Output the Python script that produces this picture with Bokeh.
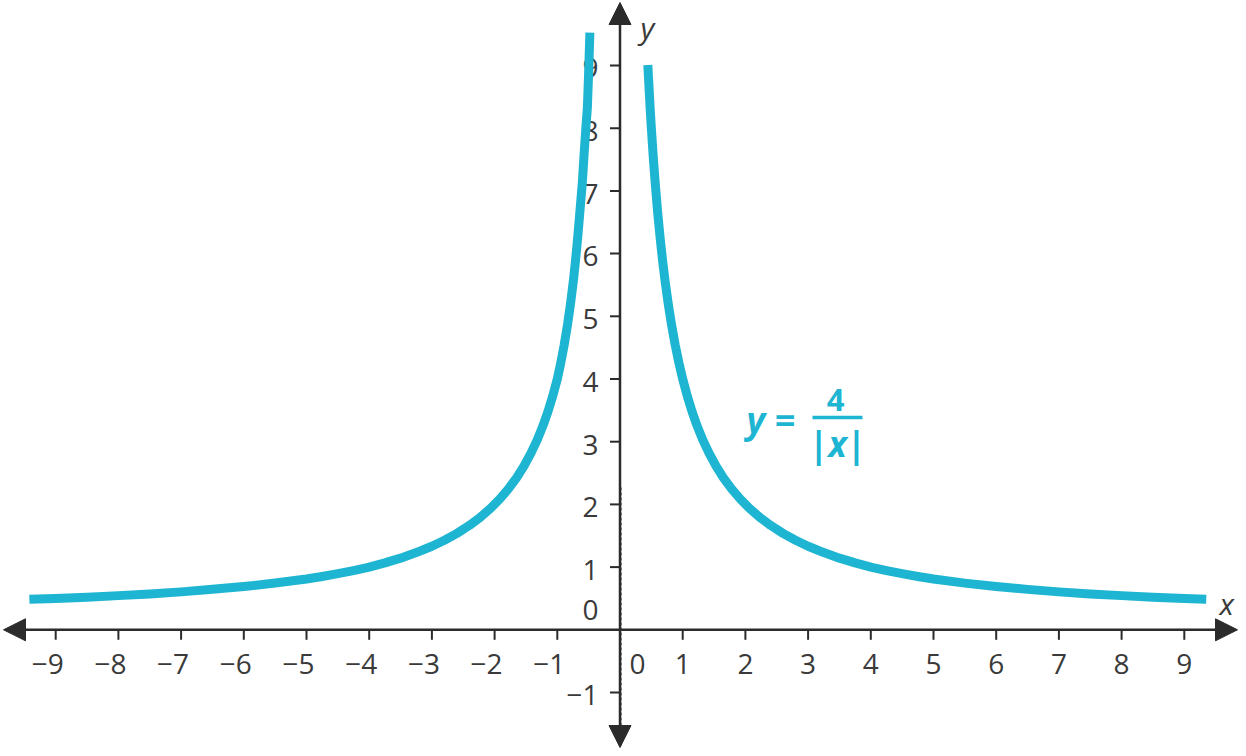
from bokeh.plotting import figure
from bokeh.models import Arrow, NormalHead
from bokeh.core.properties import value
from bokeh.embed import file_html
from bokeh.resources import INLINE

# ---- data ----
x_left = [-9.42, -9.0, -8.5, -8.0, -7.5, -7.0, -6.5, -6.0, -5.5, -5.0, -4.75, -4.5,
          -4.25, -4.0, -3.75, -3.5, -3.25, -3.0, -2.8, -2.6, -2.4, -2.23, -2.07,
          -1.92, -1.78, -1.65, -1.53, -1.42, -1.32, -1.23, -1.15, -1.07, -1.0,
          -0.945, -0.89, -0.835, -0.79, -0.745, -0.71, -0.675, -0.64, -0.60, -0.575,
          -0.545, -0.52, -0.50, -0.48]
y_left = [0.487, 0.50, 0.52, 0.545, 0.572, 0.605, 0.645, 0.69, 0.745, 0.81, 0.85,
          0.895, 0.945, 1.0, 1.067, 1.143, 1.231, 1.333, 1.429, 1.538, 1.667, 1.794,
          1.932, 2.083, 2.247, 2.424, 2.614, 2.817, 3.030, 3.252, 3.478, 3.738, 4.0,
          4.255, 4.545, 4.878, 5.195, 5.556, 5.882, 6.25, 6.667, 7.143, 7.547,
          8.0, 8.333, 8.889, 9.524]
x_right = [0.444, 0.45, 0.48, 0.5, 0.53, 0.56, 0.6, 0.64, 0.68, 0.72, 0.77, 0.82,
           0.88, 0.94, 1.0, 1.07, 1.15, 1.23, 1.32, 1.42, 1.53, 1.65, 1.78, 1.92,
           2.07, 2.23, 2.4, 2.6, 2.8, 3.0, 3.25, 3.5, 3.75, 4.0, 4.25, 4.5, 4.75,
           5.0, 5.5, 6.0, 6.5, 7.0, 7.5, 8.0, 8.5, 9.0, 9.35]
y_right = [9.009, 8.889, 8.333, 8.0, 7.547, 7.143, 6.667, 6.25, 5.882, 5.556, 5.195,
           4.878, 4.545, 4.255, 4.0, 3.738, 3.478, 3.252, 3.030, 2.817, 2.614, 2.424,
           2.247, 2.083, 1.932, 1.794, 1.667, 1.538, 1.429, 1.333, 1.231, 1.143,
           1.067, 1.0, 0.945, 0.895, 0.85, 0.81, 0.745, 0.69, 0.645, 0.605, 0.572,
           0.545, 0.52, 0.50, 0.488]

x_ticks = [-9, -8, -7, -6, -5, -4, -3, -2, -1, 1, 2, 3, 4, 5, 6, 7, 8, 9]
x_tick_labels = ["−9", "−8", "−7", "−6", "−5", "−4", "−3", "−2", "−1",
                 "1", "2", "3", "4", "5", "6", "7", "8", "9"]
y_ticks = [-1, 1, 2, 3, 4, 5, 6, 7, 8, 9]
y_tick_labels = ["−1", "1", "2", "3", "4", "5", "6", "7", "8", "9"]

CURVE = "#1db5d1"
AXIS = "#2b2b2b"
TEXT = "#3a3a3a"
FONT = value("Open Sans")
U = 62.7            # pixels per unit
OX, OY = 619.5, 629.3  # origin in pixels


def dx(px):
    return px / U


def X(px):
    return (px - OX) / U


def Y(py):
    return (OY - py) / U


W, H = 1238, 748
p = figure(width=W, height=H, x_range=(X(0), X(W)), y_range=(Y(H), Y(0)),
           output_backend="svg", toolbar_location=None,
           x_axis_location=None, y_axis_location=None, min_border=0)
p.outline_line_color = None
p.xgrid.visible = False
p.ygrid.visible = False
p.background_fill_color = "white"
p.border_fill_color = "white"

# faint dashed line along the asymptote
p.segment(x0=[dx(1.2)], y0=[Y(745)], x1=[dx(1.2)], y1=[Y(486)], line_color="#8a8a8a",
          line_width=1.5, line_dash="3 2")

# axes with arrow heads
head = dict(size=22, fill_color=AXIS, line_color=AXIS)
p.add_layout(Arrow(start=NormalHead(**head), end=NormalHead(**head),
                   x_start=X(3), y_start=0, x_end=X(1237), y_end=0,
                   line_color=AXIS, line_width=2.5))
p.add_layout(Arrow(start=NormalHead(**head), end=NormalHead(**head),
                   x_start=0, y_start=Y(747), x_end=0, y_end=Y(2),
                   line_color=AXIS, line_width=2.5))

# ticks
tl = dx(10)
p.segment(x0=x_ticks, y0=[0] * len(x_ticks), x1=x_ticks, y1=[-tl] * len(x_ticks),
          line_color=AXIS, line_width=2)
p.segment(x0=[-tl] * len(y_ticks), y0=y_ticks, x1=[0] * len(y_ticks), y1=y_ticks,
          line_color=AXIS, line_width=2)

FS = 28
sh = 0.29 * FS  # baseline correction

# tick labels
p.text(x=[t + dx(8) for t in x_ticks], y=[Y(672 - sh)] * len(x_ticks), text=x_tick_labels,
       text_font=FONT, text_font_size=f"{FS}px", text_color=TEXT,
       text_align="right", text_baseline="alphabetic")
p.text(x=[X(598)] * len(y_ticks), y=[t - dx(11 - sh) for t in y_ticks], text=y_tick_labels,
       text_font=FONT, text_font_size=f"{FS}px", text_color=TEXT,
       text_align="right", text_baseline="alphabetic")
p.text(x=[X(637)], y=[Y(672 - sh)], text=["0"], text_font=FONT, text_font_size=f"{FS}px",
       text_color=TEXT, text_align="center", text_baseline="alphabetic")
p.text(x=[X(598)], y=[Y(618 - sh)], text=["0"], text_font=FONT, text_font_size=f"{FS}px",
       text_color=TEXT, text_align="right", text_baseline="alphabetic")

# axis names
p.text(x=[X(640)], y=[Y(36 - 0.29 * 30)], text=["y"], text_font=FONT, text_font_size="30px",
       text_font_style="italic", text_color=TEXT, text_align="left",
       text_baseline="alphabetic")
p.text(x=[X(1219)], y=[Y(612 - 0.29 * 30)], text=["x"], text_font=FONT, text_font_size="30px",
       text_font_style="italic", text_color=TEXT, text_align="left",
       text_baseline="alphabetic")

# curve
p.line(x_left, y_left, line_color=CURVE, line_width=9, line_cap="butt", line_join="round")
p.line(x_right, y_right, line_color=CURVE, line_width=9, line_cap="butt", line_join="round")

# equation label
p.text(x=[X(746)], y=[Y(429 - 0.29 * 36)], text=["y ="], text_font=FONT, text_font_size="36px",
       text_font_style="bold italic", text_color=CURVE, text_align="left",
       text_baseline="alphabetic")
p.text(x=[X(835)], y=[Y(408 - 0.29 * 31)], text=["4"], text_font=FONT, text_font_size="31px",
       text_font_style="bold", text_color=CURVE, text_align="center",
       text_baseline="alphabetic")
p.segment(x0=[X(812)], y0=[Y(417)], x1=[X(862)], y1=[Y(417)], line_color=CURVE, line_width=3.5)
p.text(x=[X(837)], y=[Y(453 - 0.29 * 35)], text=["|x|"], text_font=FONT, text_font_size="35px",
       text_font_style="bold italic", text_color=CURVE, text_align="center",
       text_baseline="alphabetic")

open("out.html", "w").write(file_html(p, INLINE))
